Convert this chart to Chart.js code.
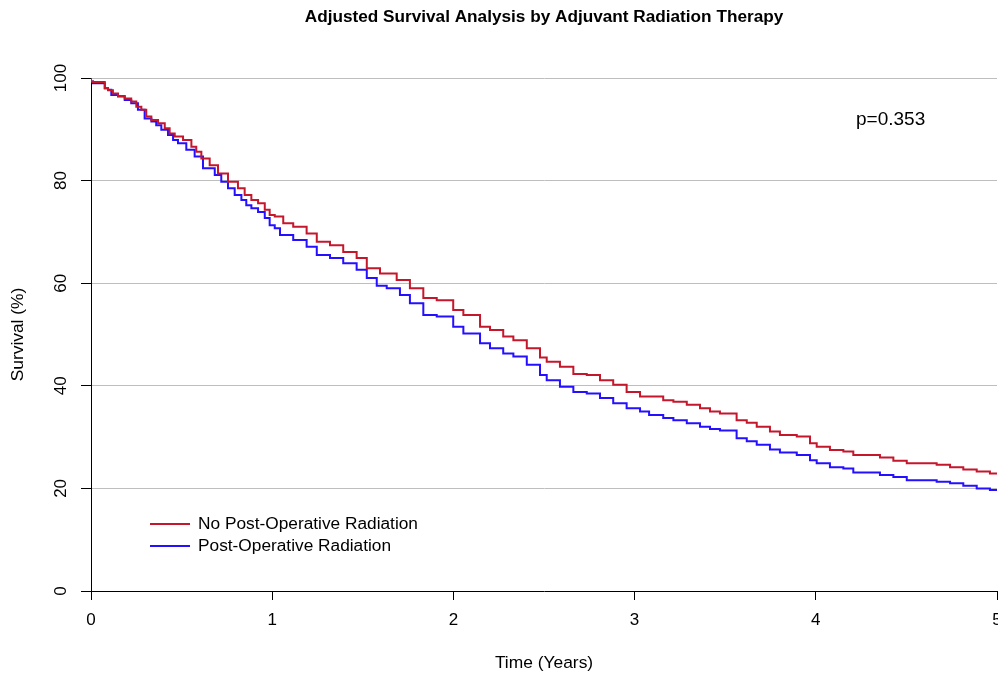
<!DOCTYPE html>
<html>
<head>
<meta charset="utf-8">
<script src="https://cdn.jsdelivr.net/npm/chart.js@4"></script>
<style>
  html, body { margin: 0; padding: 0; background: #fff; }
  #wrap { width: 998px; height: 675px; }
</style>
</head>
<body>
<div id="wrap"><canvas id="survChart" width="998" height="675"></canvas></div>
<script>
// ===== Data =====
const titleText = "Adjusted Survival Analysis by Adjuvant Radiation Therapy";
const seriesNames = ["No Post-Operative Radiation", "Post-Operative Radiation"];
const pValueText = "p=0.353";

const yTicks = [0, 20, 40, 60, 80, 100];
const xTicks = [0, 1, 2, 3, 4, 5];

const noRadTime = [0, 0.011, 0.076, 0.094, 0.121, 0.149, 0.186, 0.222, 0.25, 0.278, 0.305, 0.333,
  0.37, 0.407, 0.434, 0.462, 0.508, 0.554, 0.581, 0.609, 0.655, 0.701, 0.756, 0.811, 0.848, 0.885,
  0.922, 0.959, 0.986, 1.014, 1.061, 1.116, 1.19, 1.246, 1.319, 1.392, 1.466, 1.522, 1.595,
  1.687, 1.76, 1.834, 1.908, 1.999, 2.055, 2.147, 2.202, 2.275, 2.331, 2.405, 2.478, 2.515, 2.588,
  2.662, 2.736, 2.809, 2.882, 2.956, 3.03, 3.158, 3.214, 3.288, 3.361, 3.416, 3.471, 3.563, 3.619,
  3.674, 3.747, 3.802, 3.895, 3.968, 4.005, 4.078, 4.152, 4.207, 4.354, 4.428, 4.502, 4.667, 4.741,
  4.814, 4.888, 4.961, 5.0];
const noRadSurv = [100, 99.3, 99.2, 98.0, 97.6, 97.0, 96.5, 96.0, 95.4, 94.4, 93.8, 92.5,
  91.8, 91.2, 90.2, 89.2, 88.6, 87.9, 86.6, 85.6, 84.3, 83.0, 81.4, 79.8, 78.5, 77.2,
  76.2, 75.6, 74.3, 73.3, 73.0, 71.7, 71.0, 69.7, 68.1, 67.4, 66.1, 64.9, 62.9,
  61.9, 60.6, 59.0, 57.1, 56.7, 54.8, 53.8, 51.5, 50.9, 49.6, 48.9, 47.3, 45.5, 44.7,
  43.7, 42.3, 42.1, 41.1, 40.2, 38.8, 37.9, 37.2, 36.9, 36.3, 35.6, 35.0, 34.6, 33.3,
  32.8, 32.0, 31.1, 30.4, 30.1, 28.8, 28.1, 27.5, 27.2, 26.5, 26.0, 25.4, 24.9, 24.6,
  24.1, 23.7, 23.3, 22.9];

const radTime = [0, 0.011, 0.076, 0.094, 0.112, 0.149, 0.186, 0.222, 0.259, 0.296, 0.333, 0.36,
  0.388, 0.425, 0.453, 0.48, 0.526, 0.572, 0.618, 0.683, 0.719, 0.756, 0.793, 0.83, 0.857, 0.885,
  0.922, 0.959, 0.986, 1.014, 1.043, 1.116, 1.19, 1.246, 1.319, 1.392, 1.466, 1.522, 1.577, 1.632,
  1.705, 1.76, 1.834, 1.908, 1.999, 2.055, 2.147, 2.202, 2.275, 2.331, 2.405, 2.478, 2.515, 2.588,
  2.662, 2.736, 2.809, 2.882, 2.956, 3.03, 3.08, 3.158, 3.214, 3.288, 3.361, 3.416, 3.471, 3.563,
  3.619, 3.674, 3.747, 3.802, 3.895, 3.968, 4.005, 4.078, 4.152, 4.207, 4.354, 4.428, 4.502, 4.667,
  4.741, 4.814, 4.888, 4.961, 5.0];
const radSurv = [100, 99.3, 99.0, 98.0, 97.7, 96.7, 96.4, 95.7, 95.1, 93.8, 92.1, 91.5,
  90.8, 89.9, 88.9, 87.9, 87.3, 86.0, 84.7, 82.4, 81.1, 79.8, 78.5, 77.2, 76.2, 75.2,
  74.6, 73.9, 72.7, 71.3, 70.7, 69.4, 68.4, 67.1, 65.5, 64.9, 63.9, 62.6, 61.0, 59.5,
  59.0, 57.7, 56.1, 53.8, 53.5, 51.5, 50.2, 48.3, 47.3, 46.3, 45.7, 44.1, 42.1, 41.1,
  39.8, 38.8, 38.5, 37.6, 36.6, 35.6, 35.0, 34.3, 33.7, 33.3, 32.7, 32.0, 31.6, 31.3,
  29.8, 29.2, 28.5, 27.6, 27.0, 26.5, 25.5, 24.9, 24.1, 23.9, 23.1, 22.6, 22.2, 21.6,
  21.3, 21.0, 20.5, 20.0, 19.7];

const redColor = "#c4172c";
const blueColor = "#2410ff";
const fontFamily = "'Liberation Sans', Arial, sans-serif";

function toPoints(times, values) {
  return times.map((t, i) => ({ x: t, y: values[i] }));
}

// title, legend and p-value drawn like R's text()/legend()
const extrasPlugin = {
  id: "extras",
  afterDraw(chart) {
    const ctx = chart.ctx;
    const area = chart.chartArea;
    ctx.save();
    ctx.fillStyle = "#000";
    ctx.textBaseline = "middle";

    ctx.font = "bold 17.2px " + fontFamily;
    ctx.textAlign = "center";
    ctx.fillText(titleText, (area.left + area.right) / 2, 17);

    ctx.font = "19px " + fontFamily;
    ctx.textAlign = "left";
    ctx.fillText(pValueText, 856, 120);

    ctx.font = "17.3px " + fontFamily;
    const colors = [redColor, blueColor];
    const rowsY = [524, 546];
    seriesNames.forEach((name, i) => {
      ctx.strokeStyle = colors[i];
      ctx.lineWidth = 2;
      ctx.beginPath();
      ctx.moveTo(150, rowsY[i]);
      ctx.lineTo(190, rowsY[i]);
      ctx.stroke();
      ctx.fillText(name, 198, rowsY[i]);
    });
    ctx.restore();
  }
};

const ctx = document.getElementById("survChart").getContext("2d");

new Chart(ctx, {
  type: "line",
  data: {
    datasets: [
      {
        label: seriesNames[0],
        data: toPoints(noRadTime, noRadSurv),
        borderColor: redColor,
        borderWidth: 2,
        stepped: "after",
        pointRadius: 0,
        fill: false
      },
      {
        label: seriesNames[1],
        data: toPoints(radTime, radSurv),
        borderColor: blueColor,
        borderWidth: 2,
        stepped: "after",
        pointRadius: 0,
        fill: false
      }
    ]
  },
  options: {
    responsive: false,
    animation: false,
    layout: { padding: { top: 78, right: 1, left: 0, bottom: 0 } },
    plugins: {
      legend: { display: false },
      tooltip: { enabled: false },
      title: { display: false }
    },
    scales: {
      x: {
        type: "linear",
        min: 0,
        max: 5,
        afterBuildTicks: s => { s.ticks = xTicks.map(v => ({ value: v })); },
        afterFit: s => { s.height = 84; s.paddingRight = 0; s.paddingLeft = 0; },
        border: { display: true, color: "#000", width: 1 },
        grid: { drawOnChartArea: false, drawTicks: true, tickLength: 9, tickColor: "#000" },
        ticks: { color: "#000", font: { family: fontFamily, size: 17 }, padding: 10, maxRotation: 0 },
        title: {
          display: true,
          text: "Time (Years)",
          color: "#000",
          font: { family: fontFamily, size: 17.4 },
          padding: { top: 0, bottom: 1 }
        }
      },
      y: {
        min: 0,
        max: 100,
        afterBuildTicks: s => { s.ticks = yTicks.map(v => ({ value: v })); },
        afterFit: s => { s.width = 91; },
        border: { display: true, color: "#000", width: 1 },
        grid: {
          color: c => (c.tick && c.tick.value === 0 ? "rgba(0,0,0,0)" : "#bebebe"),
          lineWidth: 1,
          tickLength: 10,
          tickColor: "#000"
        },
        ticks: {
          color: "#000",
          font: { family: fontFamily, size: 17 },
          minRotation: 90,
          maxRotation: 90,
          crossAlign: "center",
          padding: 6
        },
        title: {
          display: true,
          text: "Survival (%)",
          color: "#000",
          font: { family: fontFamily, size: 17.4 },
          padding: { top: 8, bottom: 0 }
        }
      }
    }
  },
  plugins: [extrasPlugin]
});
</script>
</body>
</html>
